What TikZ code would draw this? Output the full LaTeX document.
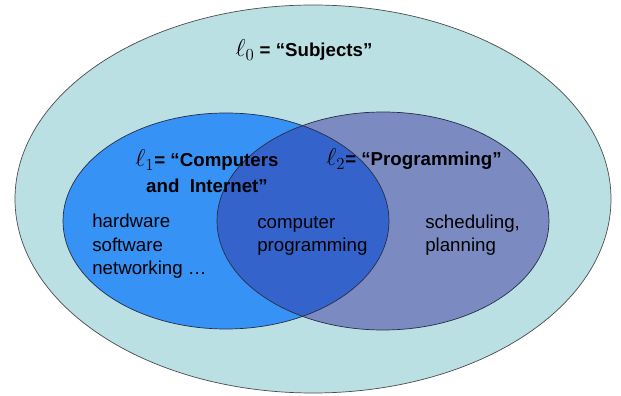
\documentclass[tikz,border=0pt]{standalone}
\usepackage{fontspec}
\setmainfont{Liberation Sans}
\usetikzlibrary{positioning}
\definecolor{subjfill}{RGB}{186,224,228}
\definecolor{compfill}{RGB}{54,146,245}
\definecolor{progfill}{RGB}{123,139,194}
\definecolor{bothfill}{RGB}{52,100,203}
\definecolor{rimline}{RGB}{40,45,70}
\tikzset{
  rim/.style={draw=rimline, line width=0.5pt},
  setname/.style={font=\fontsize{13.3}{18.5}\selectfont\bfseries, inner sep=0pt},
  items/.style={font=\fontsize{13.3}{16.8}\selectfont, align=left, inner sep=0pt, anchor=base west}
}
\newcommand{\lvl}[1]{{\fontsize{17}{17}\selectfont$\ell_{#1}$}}

\begin{document}
\begin{tikzpicture}[x=0.025cm, y=0.025cm]
  \useasboundingbox (0,0) rectangle (621,396);

  % outer set
  \fill[subjfill] (313,197) ellipse [x radius=298, y radius=194];
  \draw[rim, draw=black!70] (313,197) ellipse [x radius=298, y radius=194];

  % the two subsets
  \fill[compfill] (226,175) ellipse [x radius=163, y radius=108];
  \fill[progfill] (383,175) ellipse [x radius=166, y radius=109];
  \begin{scope}
    \clip (226,175) ellipse [x radius=163, y radius=108];
    \fill[bothfill] (383,175) ellipse [x radius=166, y radius=109];
  \end{scope}
  \draw[rim] (226,175) ellipse [x radius=163, y radius=108];
  \draw[rim] (383,175) ellipse [x radius=166, y radius=109];

  % labels
  \node[setname, anchor=base] (subj) at (304,339) {\lvl{0} = “Subjects”};
  \node[setname, align=center, anchor=base] (comp) at (207,203)
    {\lvl{1}= “Computers\\ and~ Internet”};
  \node[setname, anchor=base] (prog) at (414,230) {\lvl{2}= “Programming”};

  % members
  \node[items] (hw) at (92,121) {hardware\\software\\networking \dots};
  \node[items] (cp) at (257,144) {computer\\programming};
  \node[items] (sp) at (425,144) {scheduling,\\planning};
\end{tikzpicture}
\end{document}
